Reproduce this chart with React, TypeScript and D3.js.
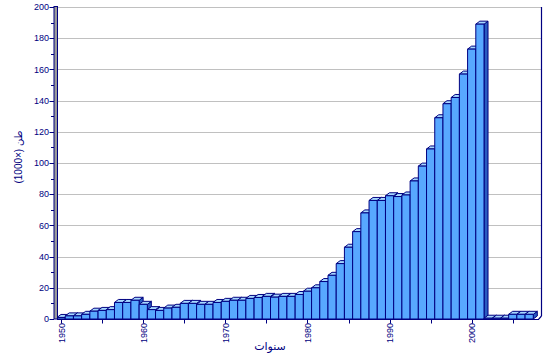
import { range, scaleLinear } from "d3";
import type { FC } from "react";

const years = range(1950, 2008);
const values = [
  1, 2, 2, 3, 5, 5.5, 6, 10.6, 10.6, 12,
  9.4, 6, 5.5, 7, 7.5, 10, 10, 9.4, 9.4, 10.6,
  11.3, 12, 12, 13.2, 13.8, 14.5, 14, 14.5, 14.5, 15.7,
  17.8, 20, 24, 28, 35.5, 46, 56, 68, 76, 76,
  79, 78.5, 79.5, 88.5, 98, 109, 129, 138, 142, 157,
  173, 189, 0.5, 0.5, 0.5, 3, 3, 3,
];
const yTicks = [0, 20, 40, 60, 80, 100, 120, 140, 160, 180, 200];
const xLabelYears = [1950, 1960, 1970, 1980, 1990, 2000];
const xTickYears = range(1950, 2010, 5);
const xTitle = "سنوات";
const yTitle = "طن (×1000)";

const W = 548;
const H = 361;
const navy = "#000080";
const font = "'Liberation Sans', 'DejaVu Sans', Arial, sans-serif";

const App: FC = () => {
  const x = scaleLinear().domain([1949.5, 2008.5]).range([57, 541.5]);
  const y = scaleLinear().domain([0, 200]).range([319, 7]);
  const bw = x(1) - x(0);
  const dx = 4;
  const dy = 3;

  return (
    <svg
      width={W}
      height={H}
      style={{ position: "absolute", left: 0, top: 0, background: "#fff" }}
      fontFamily={font}
    >
      {/* grid */}
      {yTicks.slice(1).map((t) => (
        <line
          key={t}
          x1={57}
          x2={541.5}
          y1={Math.round(y(t)) + 0.5}
          y2={Math.round(y(t)) + 0.5}
          stroke="#c0c0c0"
          strokeWidth={1}
        />
      ))}

      {/* bars */}
      {values.map((v, i) => {
        const x0 = x(years[i] - 0.5);
        const x1 = x0 + bw;
        const yt = y(v);
        const yb = y(0);
        return (
          <g key={years[i]} stroke={navy} strokeWidth={1} strokeLinejoin="round">
            <path
              d={`M${x1},${yt} L${x1 + dx},${yt - dy} L${x1 + dx},${yb - dy} L${x1},${yb} Z`}
              fill="#2a5cc0"
            />
            <path
              d={`M${x0},${yt} L${x0 + dx},${yt - dy} L${x1 + dx},${yt - dy} L${x1},${yt} Z`}
              fill="#a6d8ff"
            />
            <rect x={x0} y={yt} width={bw} height={yb - yt} fill="#58a8ff" />
          </g>
        );
      })}

      {/* wall + y axis */}
      <rect x={54} y={6.5} width={3.5} height={312.5} fill="#9a9a9a" stroke={navy} strokeWidth={1} />
      {range(0, 201, 10).map((t) => (
        <line
          key={t}
          x1={t % 20 === 0 ? 49.5 : 51}
          x2={54}
          y1={Math.round(y(t)) + 0.5}
          y2={Math.round(y(t)) + 0.5}
          stroke={navy}
          strokeWidth={1}
        />
      ))}
      {yTicks.map((t) => (
        <text
          key={t}
          x={49}
          y={y(t)}
          dy="0.35em"
          textAnchor="end"
          fontSize={9}
          fill={navy}
        >
          {t}
        </text>
      ))}

      {/* frame */}
      <line x1={541.5} x2={541.5} y1={7} y2={316} stroke={navy} strokeWidth={1.2} />
      <path d={`M57,319.5 L538.5,319.5 L541.5,316`} fill="none" stroke={navy} strokeWidth={1.2} />

      {/* x axis */}
      {xTickYears.map((yr) => (
        <line
          key={yr}
          x1={Math.round(x(yr)) + 0.5}
          x2={Math.round(x(yr)) + 0.5}
          y1={319}
          y2={323.5}
          stroke={navy}
          strokeWidth={1}
        />
      ))}
      {xLabelYears.map((yr) => (
        <text
          key={yr}
          transform={`translate(${x(yr) + 3.5},${323}) rotate(-90)`}
          textAnchor="end"
          fontSize={9}
          fill={navy}
        >
          {yr}
        </text>
      ))}

      {/* titles */}
      <text x={270} y={350} textAnchor="middle" fontSize={11} fill={navy} direction="rtl">
        {xTitle}
      </text>
      <text
        transform={`translate(22,157) rotate(-90)`}
        textAnchor="middle"
        fontSize={10}
        fill={navy}
        direction="rtl"
      >
        {yTitle}
      </text>
    </svg>
  );
};

export default App;
